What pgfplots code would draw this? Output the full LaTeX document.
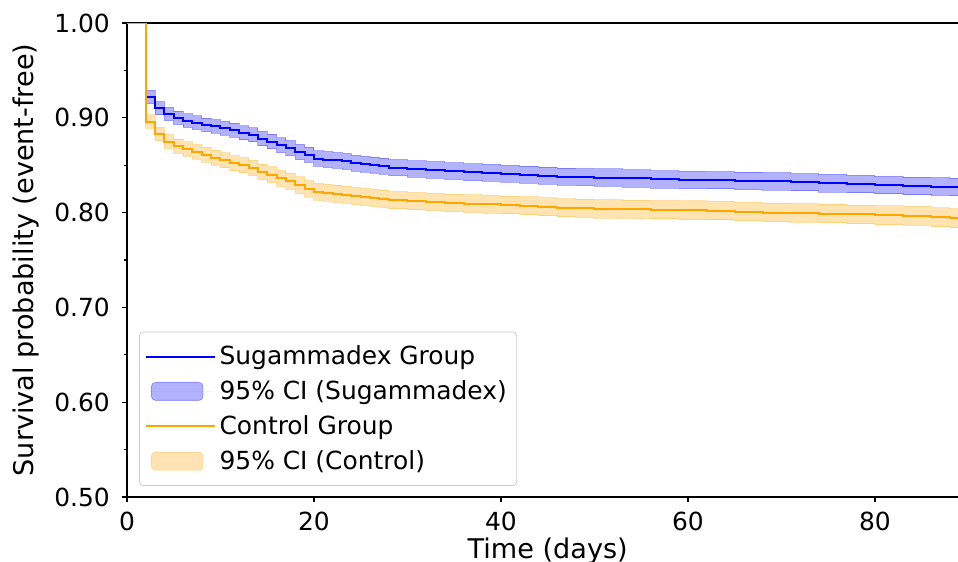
\documentclass[border=0pt]{standalone}
\usepackage{fontspec}
\setmainfont{DejaVu Sans}
\usepackage{pgfplots}
\pgfplotsset{compat=1.18}
\usepackage{pgfplotstable}
\usepgfplotslibrary{fillbetween}

\definecolor{kmblue}{RGB}{0,0,255}
\definecolor{kmorange}{RGB}{255,165,0}

% t = day, s/c = survival, se/ce = half width of the 95% CI
\pgfplotstableread{
t  s      se      c      ce
0  1.000  0.0000  1.000  0.0000
2  0.922  0.0070  0.896  0.0070
3  0.910  0.0070  0.883  0.0070
4  0.904  0.0070  0.875  0.0072
5  0.900  0.0070  0.870  0.0074
6  0.897  0.0071  0.867  0.0075
7  0.895  0.0071  0.864  0.0076
8  0.8925 0.0072  0.861  0.0077
9  0.891  0.0072  0.858  0.0078
10 0.889  0.0073  0.855  0.0079
11 0.887  0.0073  0.852  0.0080
12 0.884  0.0074  0.850  0.0080
13 0.882  0.0075  0.847  0.0081
14 0.878  0.0076  0.843  0.0082
15 0.875  0.0077  0.840  0.0083
16 0.871  0.0078  0.836  0.0084
17 0.868  0.0079  0.833  0.0085
18 0.864  0.0080  0.829  0.0086
19 0.861  0.0080  0.825  0.0087
20 0.857  0.0081  0.822  0.0088
21 0.856  0.0082  0.821  0.0088
22 0.855  0.0082  0.820  0.0089
23 0.854  0.0083  0.819  0.0089
24 0.852  0.0083  0.8175 0.0090
25 0.851  0.0084  0.8165 0.0090
26 0.850  0.0084  0.8155 0.0090
27 0.849  0.0085  0.8145 0.0091
28 0.8475 0.0085  0.813  0.0091
30 0.846  0.0086  0.812  0.0092
32 0.845  0.0087  0.8112 0.0092
34 0.8437 0.0087  0.8103 0.0093
36 0.8425 0.0088  0.8095 0.0093
38 0.842  0.0088  0.8088 0.0094
40 0.841  0.0089  0.808  0.0094
42 0.840  0.0089  0.807  0.0095
44 0.839  0.0090  0.806  0.0095
46 0.838  0.0090  0.805  0.0096
48 0.8375 0.0090  0.8045 0.0096
50 0.837  0.0090  0.804  0.0097
53 0.836  0.0090  0.8035 0.0097
56 0.835  0.0091  0.803  0.0097
59 0.8345 0.0091  0.8025 0.0098
62 0.834  0.0091  0.802  0.0098
65 0.8335 0.0092  0.801  0.0098
68 0.833  0.0092  0.800  0.0099
71 0.832  0.0092  0.7995 0.0099
74 0.831  0.0093  0.799  0.0099
77 0.830  0.0093  0.798  0.0100
80 0.829  0.0093  0.797  0.0100
83 0.828  0.0094  0.7965 0.0100
86 0.8275 0.0094  0.795  0.0100
88 0.827  0.0094  0.794  0.0100
90 0.827  0.0094  0.794  0.0100
}\km

\begin{document}
\begin{tikzpicture}
\begin{axis}[
  at={(0,0)}, anchor=south west,
  scale only axis, width=420.75bp, height=237bp,
  xmin=0, xmax=90, ymin=0.5, ymax=1.0,
  xtick={0,20,40,60,80},
  ytick={0.5,0.6,0.7,0.8,0.9,1.0},
  minor ytick={0.55,0.65,0.75,0.85,0.95},
  yticklabel style={/pgf/number format/fixed, /pgf/number format/fixed zerofill,
    /pgf/number format/precision=2},
  /pgf/number format/assume math mode=true,
  tick pos=left,
  tick align=outside,
  major tick length=2.4bp, minor tick length=1.4bp,
  axis line style={line width=0.6bp},
  every tick/.style={black, line width=0.6bp},
  tick label style={font=\fontsize{12.5}{15}\selectfont},
  xticklabel style={yshift=-1.5bp},
  yticklabel style={xshift=-2.7bp},
  label style={font=\fontsize{13.6}{16}\selectfont},
  xlabel={Time (days)},
  ylabel={Survival probability (event-free)},
  xlabel style={at={(axis description cs:0.5,-0.1287)}, anchor=base},
  ylabel style={at={(axis description cs:-0.1117,0.5)}, anchor=base, rotate=0},
  legend cell align=left,
  legend style={at={(0,0)}, anchor=south west, xshift=6bp, yshift=5.5bp,
    draw=black!20, rounded corners=2bp, fill=white,
    font=\fontsize{12.5}{15}\selectfont, row sep=2.5bp,
    inner xsep=3bp, inner ysep=4.75bp},
]
% Sugammadex
\addplot[const plot, forget plot, name path=su, draw=kmblue, draw opacity=0.3, line width=0.5bp]
  table[x=t, y expr=\thisrow{s}+\thisrow{se}] {\km};
\addplot[const plot, forget plot, name path=sl, draw=kmblue, draw opacity=0.3, line width=0.5bp]
  table[x=t, y expr=\thisrow{s}-\thisrow{se}] {\km};
\addplot[const plot, kmblue, line width=1bp,
  legend image code/.code={\path (0bp,0bp) -- (34.1bp,0bp);
    \draw[kmblue, line width=1bp] (2.5bp,0bp) -- (28.3bp,0bp);}]
  table[x=t, y=s] {\km};
\addlegendentry{Sugammadex Group}
\addplot[fill=kmblue, fill opacity=0.3, draw=none,
  legend image code/.code={\path (0bp,0bp) -- (34.1bp,0bp);
    \draw[fill=kmblue, fill opacity=0.3, draw=kmblue, draw opacity=0.3] (2.5bp,-4.5bp) rectangle (28.3bp,4.5bp);}]
  fill between[of=su and sl];
\addlegendentry{95\% CI (Sugammadex)}
% Control
\addplot[const plot, forget plot, name path=cu, draw=kmorange, draw opacity=0.3, line width=0.5bp]
  table[x=t, y expr=\thisrow{c}+\thisrow{ce}] {\km};
\addplot[const plot, forget plot, name path=cl, draw=kmorange, draw opacity=0.3, line width=0.5bp]
  table[x=t, y expr=\thisrow{c}-\thisrow{ce}] {\km};
\addplot[const plot, kmorange, line width=1bp,
  legend image code/.code={\path (0bp,0bp) -- (34.1bp,0bp);
    \draw[kmorange, line width=1bp] (2.5bp,0bp) -- (28.3bp,0bp);}]
  table[x=t, y=c] {\km};
\addlegendentry{Control Group}
\addplot[fill=kmorange, fill opacity=0.3, draw=none,
  legend image code/.code={\path (0bp,0bp) -- (34.1bp,0bp);
    \draw[fill=kmorange, fill opacity=0.3, draw=kmorange, draw opacity=0.3] (2.5bp,-4.5bp) rectangle (28.3bp,4.5bp);}]
  fill between[of=cu and cl];
\addlegendentry{95\% CI (Control)}
\end{axis}
\pgfresetboundingbox
\path[use as bounding box] (-63.5bp,-32.5bp) rectangle (415.5bp,248.5bp);
\end{tikzpicture}
\end{document}
